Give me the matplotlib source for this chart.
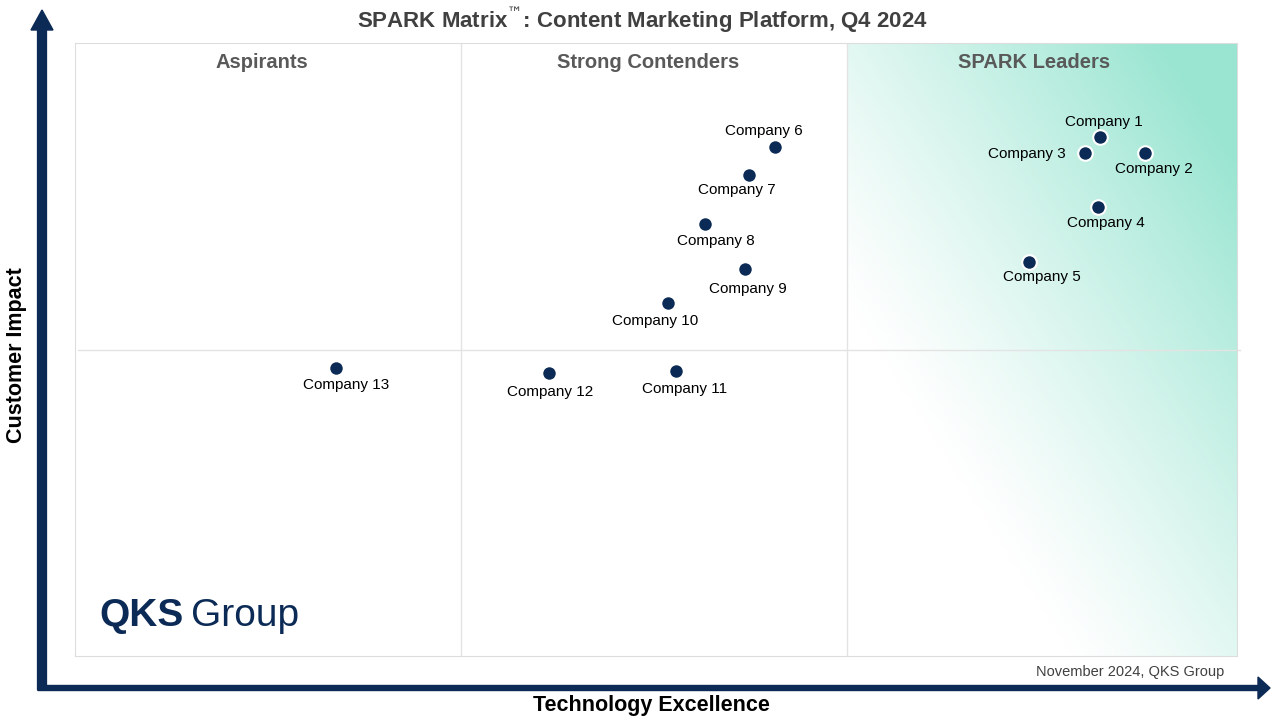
import numpy as np
import matplotlib.pyplot as plt
from matplotlib.patches import FancyArrow

plt.rcParams['font.family'] = ['Liberation Sans', 'DejaVu Sans']

# Vendor positions (Technology Excellence, Customer Impact)
companies = ["Company 1", "Company 2", "Company 3", "Company 4", "Company 5",
             "Company 6", "Company 7", "Company 8", "Company 9", "Company 10",
             "Company 11", "Company 12", "Company 13"]
tech = [88.2, 92.1, 86.9, 88.0, 82.1, 60.2, 58.0, 54.2, 57.7, 51.0, 51.7, 40.8, 22.5]
impact = [84.7, 82.1, 82.1, 73.2, 64.3, 83.0, 78.5, 70.5, 63.1, 57.6, 46.5, 46.2, 47.0]
quadrants = ["Aspirants", "Strong Contenders", "SPARK Leaders"]

# label offsets in points (dx, dy)
offsets = [(3, 11), (6, -12), (-42, -1), (6, -11), (9, -11), (-8, 12), (-9, -11),
           (8, -12), (2, -14), (-9, -13), (6, -13), (1, -14), (7, -12)]

navy = "#0b2a55"
fig = plt.figure(figsize=(12.8, 7.2), dpi=100)
ax = fig.add_axes([75 / 1280, 64 / 720, 1162 / 1280, 613 / 720])
ax.set_xlim(0, 100)
ax.set_ylim(0, 100)
ax.set_xticks([])
ax.set_yticks([])
for s in ax.spines.values():
    s.set_color("#dddddd")

# gradient for the leaders quadrant
gx, gy = np.meshgrid(np.linspace(0, 1, 200), np.linspace(1, 0, 300))
t = np.clip(0.8 * gx + 0.8 * gy - 0.45, 0, 1) ** 1.2
img = np.zeros((300, 200, 4))
img[..., 0] = 0.60
img[..., 1] = 0.90
img[..., 2] = 0.82
img[..., 3] = t
ax.imshow(img, extent=[66.4, 100, 0, 100], aspect="auto", zorder=0)

ax.axvline(33.2, color="#e3e3e3", lw=1)
ax.axvline(66.4, color="#e3e3e3", lw=1)
ax.plot([0.3, 100.3], [49.9, 49.9], color="#e3e3e3", lw=1, clip_on=False)

for i, q in enumerate(quadrants):
    ax.text(16.1 + 33.2 * i, 96.8, q, ha="center", va="center",
            fontsize=14.5, fontweight="bold", color="#595959")

ax.scatter(tech, impact, s=110, color=navy, edgecolor="white", linewidth=1.5, zorder=3)
for name, x, y, (dx, dy) in zip(companies, tech, impact, offsets):
    ax.annotate(name, (x, y), xytext=(dx, dy), textcoords="offset points",
                ha="center", va="center", fontsize=11, color="black", zorder=4)

ax.text(2.1, 6.5, "QKS", fontsize=28, fontweight="bold", color=navy, va="center")
ax.text(10.0, 6.5, "Group", fontsize=28, color=navy, va="center")

fig.text(0.502, 0.972, "SPARK Matrix$^{™}$: Content Marketing Platform, Q4 2024",
         ha="center", va="center", fontsize=16, fontweight="bold", color="#404040")
fig.text(1224 / 1280, 1 - 672 / 720, "November 2024, QKS Group", ha="right",
         va="center", fontsize=10.5, color="#404040")
fig.text(651 / 1280, 1 - 705 / 720, "Technology Excellence", ha="center",
         va="center", fontsize=15.5, fontweight="bold")
fig.text(17 / 1280, 1 - 355 / 720, "Customer Impact", ha="center", va="center",
         fontsize=15.5, fontweight="bold", rotation=90)

# axis arrows
fig.patches.append(FancyArrow(42 / 1280, 1 - 690 / 720, 0, 680 / 720, width=5 / 720,
                              head_width=22 / 1280, head_length=20 / 720,
                              length_includes_head=True, color=navy, transform=fig.transFigure))
fig.patches.append(FancyArrow(38 / 1280, 1 - 688 / 720, 1232 / 1280, 0, width=5 / 720,
                              head_width=22 / 720, head_length=12 / 1280,
                              length_includes_head=True, color=navy, transform=fig.transFigure))

fig.savefig("out.png", dpi=100)
